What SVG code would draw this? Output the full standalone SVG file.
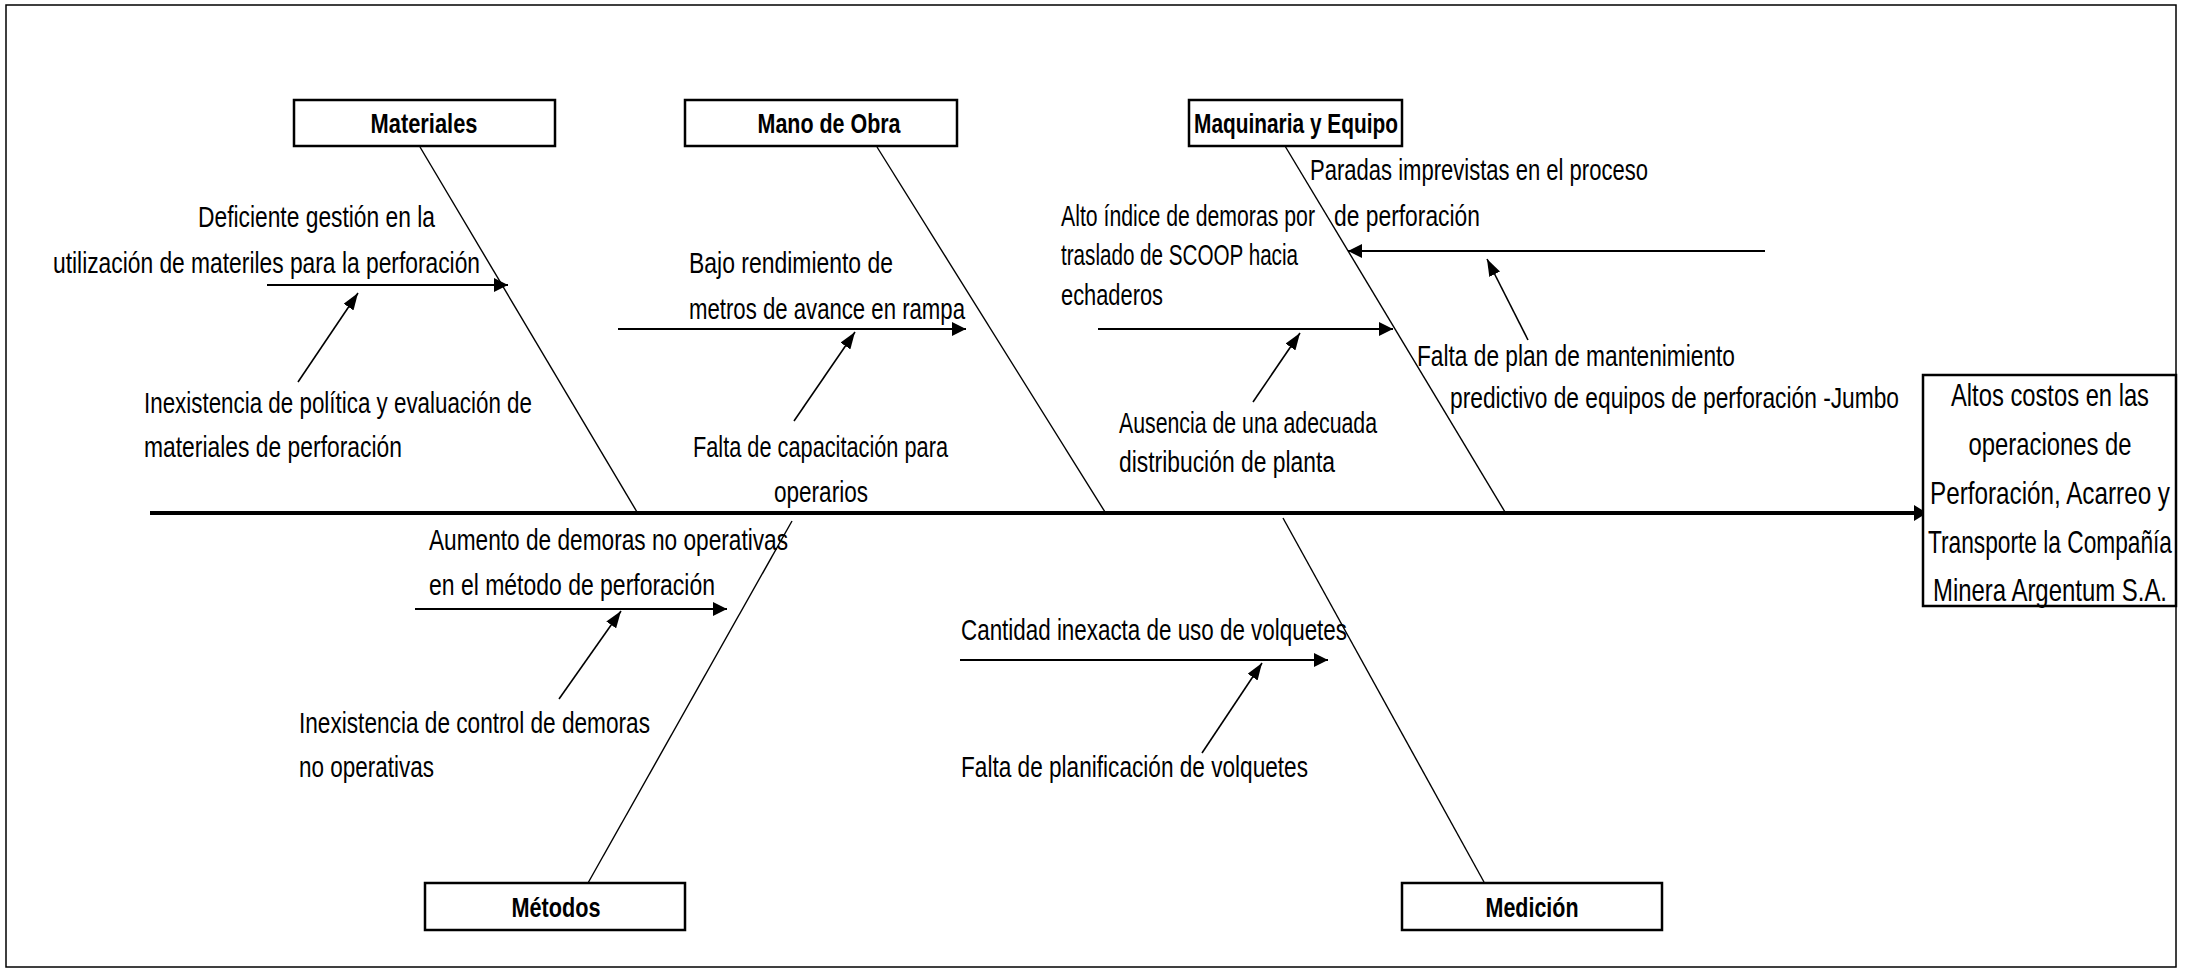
<svg xmlns="http://www.w3.org/2000/svg" width="2185" height="973" viewBox="0 0 2185 973">
<style>
text{font-family:"Liberation Sans",Arial,sans-serif;fill:#000}
.lbl{font-size:20.5px}
.cat{font-size:19.3px;font-weight:bold;text-anchor:middle}
.eff{font-size:22px;text-anchor:middle}
.box{fill:#fff;stroke:#000;stroke-width:2.5}
.bone{stroke:#000;stroke-width:1.4;fill:none}
.harr{stroke:#000;stroke-width:2.2;fill:none;marker-end:url(#ah)}
.sarr{stroke:#000;stroke-width:1.6;fill:none;marker-end:url(#as)}
</style>
<defs>
<marker id="ah" viewBox="0 0 14 14" refX="14" refY="7" markerWidth="14" markerHeight="14" markerUnits="userSpaceOnUse" orient="auto"><path d="M0,0 L14,7 L0,14 z" fill="#000"/></marker>
<marker id="as" viewBox="0 0 17 12" refX="17" refY="6" markerWidth="17" markerHeight="12" markerUnits="userSpaceOnUse" orient="auto"><path d="M0,0 L17,6 L0,12 z" fill="#000"/></marker>
<marker id="am" viewBox="0 0 13 16" refX="13" refY="8" markerWidth="13" markerHeight="16" markerUnits="userSpaceOnUse" orient="auto"><path d="M0,0 L13,8 L0,16 z" fill="#000"/></marker>
</defs>
<rect x="0" y="0" width="2185" height="973" fill="#fff"/>
<rect x="6" y="5" width="2170" height="962" fill="none" stroke="#000" stroke-width="1.5"/>

<g id="connectors">
<line x1="150" y1="513" x2="1927" y2="513" stroke="#000" stroke-width="4" marker-end="url(#am)"/>
<line class="bone" x1="420" y1="147" x2="637" y2="512"/>
<line class="bone" x1="877" y1="147" x2="1105" y2="512"/>
<line class="bone" x1="1285" y1="146" x2="1505" y2="512"/>
<line class="bone" x1="588" y1="883" x2="792" y2="521"/>
<line class="bone" x1="1283" y1="518" x2="1484" y2="882"/>
<line class="harr" x1="267" y1="285" x2="508" y2="285"/>
<line class="harr" x1="618" y1="329" x2="966" y2="329"/>
<line class="harr" x1="1098" y1="329" x2="1393" y2="329"/>
<line class="harr" x1="1765" y1="251" x2="1348" y2="251"/>
<line class="harr" x1="415" y1="609" x2="727" y2="609"/>
<line class="harr" x1="960" y1="660" x2="1328" y2="660"/>
<line class="sarr" x1="298" y1="382" x2="358" y2="293"/>
<line class="sarr" x1="794" y1="421" x2="855" y2="332"/>
<line class="sarr" x1="1253" y1="402" x2="1300" y2="333"/>
<line class="sarr" x1="1528" y1="340" x2="1487" y2="259"/>
<line class="sarr" x1="559" y1="699" x2="621" y2="611"/>
<line class="sarr" x1="1202" y1="753" x2="1262" y2="663"/>
</g>

<g id="effect">
<rect class="box" x="1923" y="375" width="253" height="231"/>
<text class="eff" transform="translate(2050 406) scale(1 1.4)" textLength="198" lengthAdjust="spacingAndGlyphs">Altos costos en las</text>
<text class="eff" transform="translate(2050 455) scale(1 1.4)" textLength="163" lengthAdjust="spacingAndGlyphs">operaciones de</text>
<text class="eff" transform="translate(2050 504) scale(1 1.4)" textLength="240" lengthAdjust="spacingAndGlyphs">Perforación, Acarreo y</text>
<text class="eff" transform="translate(2050 553) scale(1 1.4)" textLength="244" lengthAdjust="spacingAndGlyphs">Transporte la Compañía</text>
<text class="eff" transform="translate(2050 601) scale(1 1.4)" textLength="234" lengthAdjust="spacingAndGlyphs">Minera Argentum S.A.</text>
</g>

<g id="cat-materiales">
<rect class="box" x="294" y="100" width="261" height="46"/>
<text class="cat" transform="translate(424 133) scale(1 1.4)" textLength="107" lengthAdjust="spacingAndGlyphs">Materiales</text>
</g>
<g id="cat-manodeobra">
<rect class="box" x="685" y="100" width="272" height="46"/>
<text class="cat" transform="translate(829 133) scale(1 1.4)" textLength="143" lengthAdjust="spacingAndGlyphs">Mano de Obra</text>
</g>
<g id="cat-maquinaria">
<rect class="box" x="1189" y="100" width="213" height="46"/>
<text class="cat" transform="translate(1296 133) scale(1 1.4)" textLength="204" lengthAdjust="spacingAndGlyphs">Maquinaria y Equipo</text>
</g>
<g id="cat-metodos">
<rect class="box" x="425" y="883" width="260" height="47"/>
<text class="cat" transform="translate(556 917) scale(1 1.4)" textLength="89" lengthAdjust="spacingAndGlyphs">Métodos</text>
</g>
<g id="cat-medicion">
<rect class="box" x="1402" y="883" width="260" height="47"/>
<text class="cat" transform="translate(1532 917) scale(1 1.4)" textLength="93" lengthAdjust="spacingAndGlyphs">Medición</text>
</g>

<g id="cause-deficiente-gestion">
<text class="lbl" transform="translate(198 227) scale(1 1.4)" textLength="237" lengthAdjust="spacingAndGlyphs">Deficiente gestión en la</text>
<text class="lbl" transform="translate(53 273) scale(1 1.4)" textLength="427" lengthAdjust="spacingAndGlyphs">utilización de materiles para la perforación</text>
</g>
<g id="cause-inexistencia-politica">
<text class="lbl" transform="translate(144 413) scale(1 1.4)" textLength="388" lengthAdjust="spacingAndGlyphs">Inexistencia de política y evaluación de</text>
<text class="lbl" transform="translate(144 457) scale(1 1.4)" textLength="258" lengthAdjust="spacingAndGlyphs">materiales de perforación</text>
</g>
<g id="cause-bajo-rendimiento">
<text class="lbl" transform="translate(689 273) scale(1 1.4)" textLength="204" lengthAdjust="spacingAndGlyphs">Bajo rendimiento de</text>
<text class="lbl" transform="translate(689 319) scale(1 1.4)" textLength="276" lengthAdjust="spacingAndGlyphs">metros de avance en rampa</text>
</g>
<g id="cause-falta-capacitacion">
<text class="lbl" transform="translate(693 457) scale(1 1.4)" textLength="255" lengthAdjust="spacingAndGlyphs">Falta de capacitación para</text>
<text class="lbl" transform="translate(774 502) scale(1 1.4)" textLength="94" lengthAdjust="spacingAndGlyphs">operarios</text>
</g>
<g id="cause-alto-indice">
<text class="lbl" transform="translate(1061 226) scale(1 1.4)" textLength="254" lengthAdjust="spacingAndGlyphs">Alto índice de demoras por</text>
<text class="lbl" transform="translate(1061 265) scale(1 1.4)" textLength="237" lengthAdjust="spacingAndGlyphs">traslado de SCOOP hacia</text>
<text class="lbl" transform="translate(1061 305) scale(1 1.4)" textLength="102" lengthAdjust="spacingAndGlyphs">echaderos</text>
</g>
<g id="cause-paradas">
<text class="lbl" transform="translate(1310 180) scale(1 1.4)" textLength="338" lengthAdjust="spacingAndGlyphs">Paradas imprevistas en el proceso</text>
<text class="lbl" transform="translate(1334 226) scale(1 1.4)" textLength="146" lengthAdjust="spacingAndGlyphs">de perforación</text>
</g>
<g id="cause-falta-plan">
<text class="lbl" transform="translate(1417 366) scale(1 1.4)" textLength="318" lengthAdjust="spacingAndGlyphs">Falta de plan de mantenimiento</text>
<text class="lbl" transform="translate(1450 408) scale(1 1.4)" textLength="449" lengthAdjust="spacingAndGlyphs">predictivo de equipos de perforación -Jumbo</text>
</g>
<g id="cause-ausencia">
<text class="lbl" transform="translate(1119 433) scale(1 1.4)" textLength="258" lengthAdjust="spacingAndGlyphs">Ausencia de una adecuada</text>
<text class="lbl" transform="translate(1119 472) scale(1 1.4)" textLength="216" lengthAdjust="spacingAndGlyphs">distribución de planta</text>
</g>
<g id="cause-aumento-demoras">
<text class="lbl" transform="translate(429 550) scale(1 1.4)" textLength="359" lengthAdjust="spacingAndGlyphs">Aumento de demoras no operativas</text>
<text class="lbl" transform="translate(429 595) scale(1 1.4)" textLength="286" lengthAdjust="spacingAndGlyphs">en el método de perforación</text>
</g>
<g id="cause-inexistencia-control">
<text class="lbl" transform="translate(299 733) scale(1 1.4)" textLength="351" lengthAdjust="spacingAndGlyphs">Inexistencia de control de demoras</text>
<text class="lbl" transform="translate(299 777) scale(1 1.4)" textLength="135" lengthAdjust="spacingAndGlyphs">no operativas</text>
</g>
<g id="cause-cantidad-volquetes">
<text class="lbl" transform="translate(961 640) scale(1 1.4)" textLength="386" lengthAdjust="spacingAndGlyphs">Cantidad inexacta de uso de volquetes</text>
</g>
<g id="cause-falta-planificacion">
<text class="lbl" transform="translate(961 777) scale(1 1.4)" textLength="347" lengthAdjust="spacingAndGlyphs">Falta de planificación de volquetes</text>
</g>
</svg>
